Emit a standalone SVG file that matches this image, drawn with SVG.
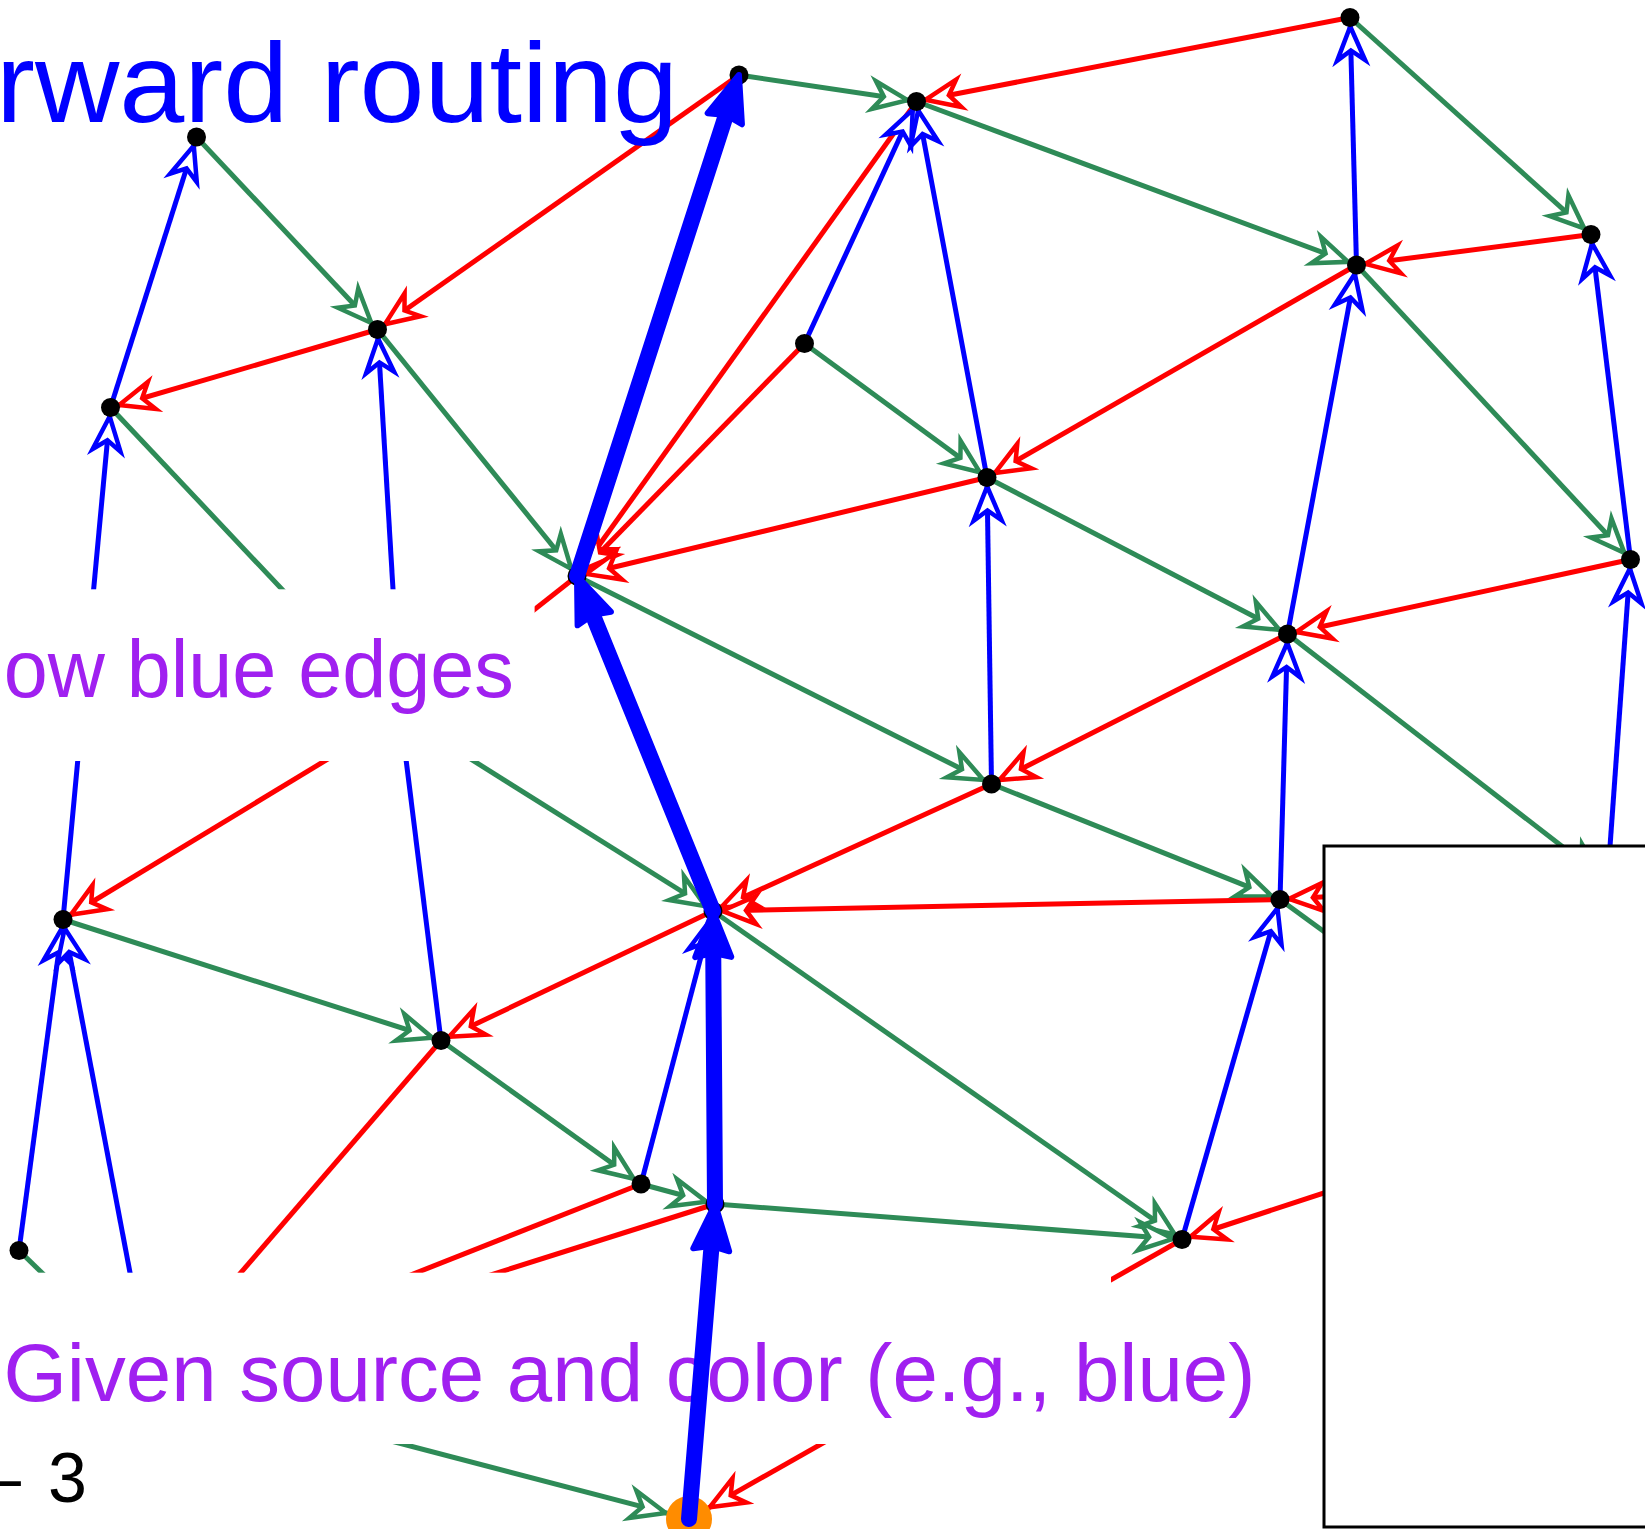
<svg xmlns="http://www.w3.org/2000/svg" width="1645" height="1529" viewBox="0 0 1645 1529">
<style>
  .e line{stroke-width:5;fill:none}
  .g line{stroke:#2E8B57;marker-end:url(#ag)}
  .r line{stroke:#FF0000;marker-end:url(#ar)}
  .b line{stroke:#0000FF;marker-end:url(#ab)}
  .e line.hid{marker-end:none}
  .dot{fill:#000}
  .thick line{stroke:#0000FF;stroke-width:16;stroke-linecap:round;marker-end:url(#at)}
  .txt{font-family:"Liberation Sans",Arial,sans-serif}
  .mask{fill:#fff;stroke:none}
</style>
<defs>
  <marker id="ag" markerUnits="userSpaceOnUse" orient="auto" viewBox="-45 -22 56 44" markerWidth="56" markerHeight="44" refX="9" refY="0">
    <path d="M0,0 L-34,-14 L-24,0 L-34,14 Z" fill="#fff" stroke="#2E8B57" stroke-width="4.5"/>
  </marker>
  <marker id="ar" markerUnits="userSpaceOnUse" orient="auto" viewBox="-45 -22 56 44" markerWidth="56" markerHeight="44" refX="9" refY="0">
    <path d="M0,0 L-34,-14 L-24,0 L-34,14 Z" fill="#fff" stroke="#FF0000" stroke-width="4.5"/>
  </marker>
  <marker id="ab" markerUnits="userSpaceOnUse" orient="auto" viewBox="-45 -22 56 44" markerWidth="56" markerHeight="44" refX="9" refY="0">
    <path d="M0,0 L-34,-14 L-24,0 L-34,14 Z" fill="#fff" stroke="#0000FF" stroke-width="4.5"/>
  </marker>
  <marker id="at" markerUnits="userSpaceOnUse" orient="auto" viewBox="-60 -28 90 56" markerWidth="90" markerHeight="56" refX="-20" refY="0">
    <path d="M0,0 L-46,-18 L-42,0 L-46,18 Z" fill="#0000FF" stroke="#0000FF" stroke-width="6" stroke-linejoin="round"/>
  </marker>
</defs>

<g id="connectors" class="e">
  <g class="g">
    <line x1="739" y1="75" x2="916.5" y2="101.5"/>
    <line x1="916.5" y1="101.5" x2="1356.5" y2="265"/>
    <line x1="1350" y1="17.5" x2="1591" y2="234.5"/>
    <line x1="1356.5" y1="265" x2="1630.5" y2="559.5"/>
    <line x1="196.5" y1="137" x2="377.5" y2="329.5"/>
    <line x1="377.5" y1="329.5" x2="577" y2="576"/>
    <line class="hid" x1="110.5" y1="407.5" x2="400.5" y2="715"/>
    <line x1="804.5" y1="343.5" x2="987" y2="477.5"/>
    <line x1="987" y1="477.5" x2="1287.5" y2="634"/>
    <line x1="577" y1="576" x2="991.5" y2="784"/>
    <line x1="1287.5" y1="634" x2="1607.5" y2="881.5"/>
    <line x1="991.5" y1="784" x2="1280" y2="899.5"/>
    <line x1="1280" y1="899.5" x2="1400" y2="987"/>
    <line x1="713" y1="911" x2="1182" y2="1239.5"/>
    <line x1="715" y1="1204" x2="1182" y2="1239.5"/>
    <line x1="63" y1="919.5" x2="441" y2="1040.5"/>
    <line x1="441" y1="1040.5" x2="641" y2="1184"/>
    <line x1="641" y1="1184" x2="715" y2="1204"/>
    <line x1="400.5" y1="715" x2="713" y2="911"/>
    <line class="hid" x1="19" y1="1250.5" x2="150" y2="1378"/>
    <line x1="150" y1="1378" x2="674.5" y2="1515.2"/>
  </g>
  <g class="r">
    <line x1="1350" y1="17.5" x2="916.5" y2="101.5"/>
    <line x1="1591" y1="234.5" x2="1356.5" y2="265"/>
    <line x1="739" y1="75" x2="377.5" y2="329.5"/>
    <line x1="377.5" y1="329.5" x2="110.5" y2="407.5"/>
    <line x1="916.5" y1="101.5" x2="577" y2="576"/>
    <line x1="804.5" y1="343.5" x2="577" y2="576"/>
    <line x1="987" y1="477.5" x2="577" y2="576"/>
    <line x1="1356.5" y1="265" x2="987" y2="477.5"/>
    <line x1="1630.5" y1="559.5" x2="1287.5" y2="634"/>
    <line x1="1287.5" y1="634" x2="991.5" y2="784"/>
    <line x1="991.5" y1="784" x2="713" y2="911"/>
    <line x1="1280" y1="899.5" x2="713" y2="911"/>
    <line x1="1420" y1="891" x2="1280" y2="899.5"/>
    <line x1="713" y1="911" x2="441" y2="1040.5"/>
    <line class="hid" x1="577" y1="576" x2="400.5" y2="715"/>
    <line x1="400.5" y1="715" x2="63" y2="919.5"/>
    <line class="hid" x1="441" y1="1040.5" x2="150" y2="1378"/>
    <line class="hid" x1="641" y1="1184" x2="150" y2="1378"/>
    <line class="hid" x1="715" y1="1204" x2="165" y2="1378"/>
    <line x1="1420" y1="1161.5" x2="1182" y2="1239.5"/>
    <line x1="1182" y1="1239.5" x2="702" y2="1511.6"/>
  </g>
  <g class="b">
    <line x1="1356.5" y1="265" x2="1350" y2="17.5"/>
    <line x1="1287.5" y1="634" x2="1356.5" y2="265"/>
    <line x1="1630.5" y1="559.5" x2="1591" y2="234.5"/>
    <line x1="1607.5" y1="881.5" x2="1630.5" y2="559.5"/>
    <line x1="804.5" y1="343.5" x2="916.5" y2="101.5"/>
    <line x1="987" y1="477.5" x2="916.5" y2="101.5"/>
    <line x1="991.5" y1="784" x2="987" y2="477.5"/>
    <line x1="1280" y1="899.5" x2="1287.5" y2="634"/>
    <line x1="1182" y1="1239.5" x2="1280" y2="899.5"/>
    <line x1="110.5" y1="407.5" x2="196.5" y2="137"/>
    <line x1="63" y1="919.5" x2="110.5" y2="407.5"/>
    <line x1="400.5" y1="715" x2="377.5" y2="329.5"/>
    <line class="hid" x1="441" y1="1040.5" x2="400.5" y2="715"/>
    <line x1="19" y1="1250.5" x2="63" y2="919.5"/>
    <line x1="150" y1="1378" x2="63" y2="919.5"/>
    <line x1="641" y1="1184" x2="713" y2="911"/>
  </g>
</g>

<g id="nodes">
  <circle id="n1" class="dot" cx="739" cy="75" r="9.5"/>
  <circle id="n2" class="dot" cx="916.5" cy="101.5" r="9.5"/>
  <circle id="n3" class="dot" cx="1350" cy="17.5" r="9.5"/>
  <circle id="n4" class="dot" cx="1591" cy="234.5" r="9.5"/>
  <circle id="n5" class="dot" cx="1356.5" cy="265" r="9.5"/>
  <circle id="n6" class="dot" cx="196.5" cy="137" r="9.5"/>
  <circle id="n7" class="dot" cx="377.5" cy="329.5" r="9.5"/>
  <circle id="n8" class="dot" cx="110.5" cy="407.5" r="9.5"/>
  <circle id="n9" class="dot" cx="804.5" cy="343.5" r="9.5"/>
  <circle id="n10" class="dot" cx="987" cy="477.5" r="9.5"/>
  <circle id="n11" class="dot" cx="577" cy="576" r="9.5"/>
  <circle id="n12" class="dot" cx="1630.5" cy="559.5" r="9.5"/>
  <circle id="n13" class="dot" cx="1287.5" cy="634" r="9.5"/>
  <circle id="n14" class="dot" cx="991.5" cy="784" r="9.5"/>
  <circle id="n15" class="dot" cx="63" cy="919.5" r="9.5"/>
  <circle id="n16" class="dot" cx="713" cy="911" r="9.5"/>
  <circle id="n17" class="dot" cx="1280" cy="899.5" r="9.5"/>
  <circle id="n18" class="dot" cx="441" cy="1040.5" r="9.5"/>
  <circle id="n19" class="dot" cx="641" cy="1184" r="9.5"/>
  <circle id="n20" class="dot" cx="715" cy="1204" r="9.5"/>
  <circle id="n21" class="dot" cx="1182" cy="1239.5" r="9.5"/>
  <circle id="n22" class="dot" cx="19" cy="1250.5" r="9.5"/>
</g>

<g id="overlays">
  <rect class="mask" x="0" y="589.3" width="534.6" height="171.7"/>
  <rect class="mask" x="0" y="1272.7" width="1111" height="171.3"/>
  <rect id="panel" x="1324" y="846" width="400" height="681" fill="#fff" stroke="#000" stroke-width="3"/>
</g>

<g id="labels" class="txt">
  <text x="-4" y="122" font-size="114" fill="#0000FF" textLength="682" lengthAdjust="spacingAndGlyphs">rward routing</text>
  <text x="3.7" y="697.3" font-size="82" fill="#A020F0" textLength="510" lengthAdjust="spacingAndGlyphs">ow blue edges</text>
  <text x="3.4" y="1401" font-size="82" fill="#A020F0" textLength="1252" lengthAdjust="spacingAndGlyphs">Given source and color (e.g., blue)</text>
  <text y="1502" font-size="70" fill="#000"><tspan x="-18">– </tspan><tspan x="48">3</tspan></text>
</g>

<g id="source">
  <circle id="n23" cx="689" cy="1519" r="23" fill="#FF8C00"/>
</g>

<g id="path" class="thick">
  <line x1="689" y1="1519" x2="713.4" y2="1223.9"/>
  <line x1="715" y1="1204" x2="713.1" y2="931"/>
  <line x1="713" y1="911" x2="584.5" y2="594.5"/>
  <line x1="577" y1="576" x2="732.8" y2="94"/>
</g>
</svg>
